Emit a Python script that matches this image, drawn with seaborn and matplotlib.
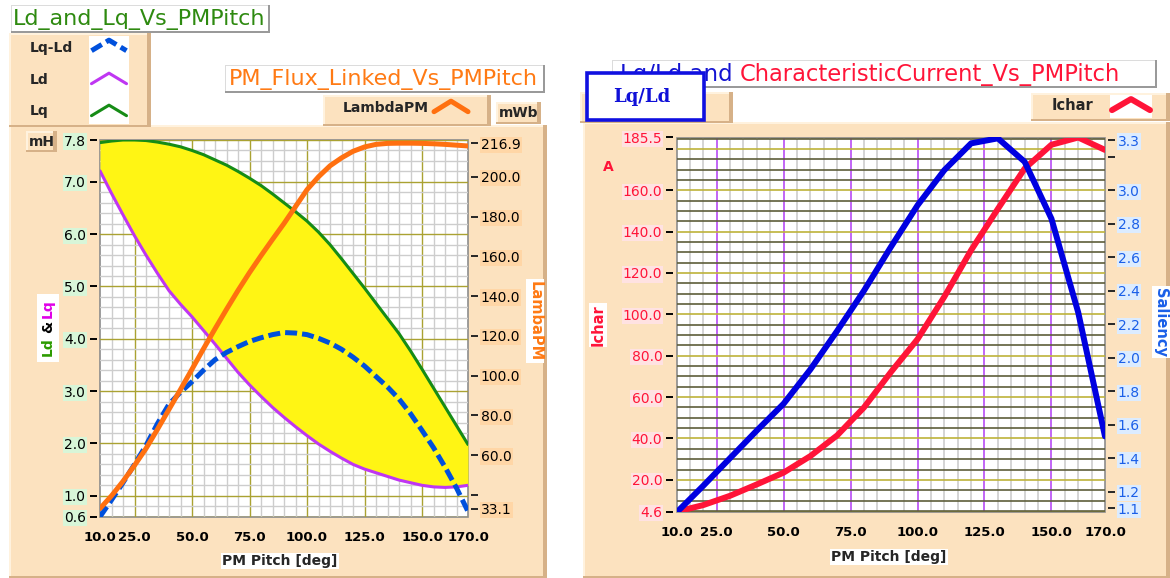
import matplotlib
matplotlib.use("Agg")
import matplotlib.pyplot as plt
import seaborn as sns
from matplotlib.patches import Rectangle
from matplotlib.lines import Line2D
from matplotlib.legend_handler import HandlerBase

# ---------------- data ----------------
# left chart (5 deg steps)
pitch_left_deg = [10, 15, 20, 25, 30, 35, 40, 45, 50, 55, 60, 65, 70, 75, 80, 85, 90,
                  95, 100, 105, 110, 115, 120, 125, 130, 135, 140, 145, 150, 155, 160, 165, 170]
lq_mh = [7.75, 7.78, 7.8, 7.8, 7.79, 7.76, 7.72, 7.67, 7.6, 7.52, 7.42, 7.32, 7.2, 7.07, 6.93, 6.77, 6.6,
         6.43, 6.25, 6.04, 5.8, 5.53, 5.25, 4.97, 4.68, 4.39, 4.1, 3.77, 3.42, 3.06, 2.7, 2.34, 1.98]
ld_mh = [7.21, 6.78, 6.37, 5.97, 5.6, 5.25, 4.92, 4.66, 4.42, 4.16, 3.9, 3.63, 3.36, 3.12, 2.9, 2.69, 2.5,
         2.32, 2.15, 1.99, 1.85, 1.72, 1.6, 1.51, 1.44, 1.37, 1.3, 1.25, 1.2, 1.17, 1.16, 1.17, 1.2]
lq_minus_ld_mh = [0.6, 0.92, 1.25, 1.6, 1.96, 2.38, 2.75, 2.98, 3.18, 3.4, 3.6, 3.74, 3.85, 3.95, 4.02, 4.08, 4.12,
                  4.11, 4.08, 4.01, 3.92, 3.8, 3.65, 3.48, 3.28, 3.08, 2.85, 2.57, 2.25, 1.92, 1.55, 1.15, 0.7]
lambda_pm_mwb = [33.1, 39.5, 46.8, 54.8, 63.3, 73.0, 83.0, 93.0, 103.2, 113.5, 123.5, 133.3, 142.8, 151.8, 160.3, 168.5, 176.5,
                 185.0, 193.5, 200.0, 205.5, 209.5, 212.8, 215.0, 216.3, 216.8, 216.9, 216.9, 216.8, 216.6, 216.3, 215.9, 215.5]
# right chart (10 deg steps)
pitch_right_deg = [10, 20, 30, 40, 50, 60, 70, 80, 90, 100, 110, 120, 130, 140, 150, 160, 170]
ichar_a = [4.6, 7.8, 12.3, 17.8, 23.5, 31.5, 41.5, 55.0, 72.0, 88.0, 108.5, 131.0, 151.0, 170.5, 182.0, 185.5, 179.5]
saliency = [1.075, 1.235, 1.4, 1.565, 1.725, 1.93, 2.16, 2.4, 2.66, 2.91, 3.12, 3.28, 3.31, 3.17, 2.83, 2.27, 1.53]

x_ticks = [10, 25, 50, 75, 100, 125, 150, 170]
x_tick_labels = ["10.0", "25.0", "50.0", "75.0", "100.0", "125.0", "150.0", "170.0"]
l_ticks = [0.6, 1, 2, 3, 4, 5, 6, 7, 7.8]
l_tick_labels = ["0.6", "1.0", "2.0", "3.0", "4.0", "5.0", "6.0", "7.0", "7.8"]
lam_ticks = [33.1, 40, 60, 80, 100, 120, 140, 160, 180, 200, 216.9]
lam_tick_labels = ["33.1", "", "60.0", "80.0", "100.0", "120.0", "140.0", "160.0", "180.0", "200.0", "216.9"]
i_ticks = [4.6, 20, 40, 60, 80, 100, 120, 140, 160, 180, 185.5]
i_tick_labels = ["4.6", "20.0", "40.0", "60.0", "80.0", "100.0", "120.0", "140.0", "160.0", "", "185.5"]
s_ticks = [1.1, 1.2, 1.4, 1.6, 1.8, 2.0, 2.2, 2.4, 2.6, 2.8, 3.0, 3.2, 3.3]
s_tick_labels = ["1.1", "1.2", "1.4", "1.6", "1.8", "2.0", "2.2", "2.4", "2.6", "2.8", "3.0", "", "3.3"]

# ---------------- style ----------------
sns.set_style("white")
plt.rcParams["font.family"] = ["DejaVu Sans"]

W, H = 1170, 578
BEIGE = "#fce2bf"
GREEN = "#168c16"
PURPLE = "#bf36f2"
BLUE_D = "#0050dc"
ORANGE = "#ff7010"
YELLOW = "#fff514"
RED = "#ff1438"
BLUE = "#0000e0"

fig = plt.figure(figsize=(W / 100, H / 100), dpi=100)
fig.patch.set_facecolor("white")


def fx(p):
    return p / W


def fy(p):
    return 1 - p / H


def box(x0, y0, x1, y1):
    return [x0 / W, 1 - y1 / H, (x1 - x0) / W, (y1 - y0) / H]


def rect(x0, y0, x1, y1, fc, z=-5, ec="none", lw=0):
    r = Rectangle((x0 / W, 1 - y1 / H), (x1 - x0) / W, (y1 - y0) / H,
                  transform=fig.transFigure, facecolor=fc, edgecolor=ec,
                  linewidth=lw, zorder=z)
    fig.add_artist(r)
    return r


def bevel_panel(x0, y0, x1, y1, fc=BEIGE, z=-5):
    rect(x0, y0, x1, y1, fc, z=z)
    rect(x0, y0, x1, y0 + 2, "#fff2de", z=z + 0.1)
    rect(x0, y0, x0 + 2, y1, "#fff2de", z=z + 0.1)
    rect(x1 - 4, y0, x1, y1, "#d6b188", z=z + 0.1)
    rect(x0, y1 - 2, x1, y1, "#d6b188", z=z + 0.1)


def title_box(x0, y0, x1, y1, z=-4):
    rect(x0, y0, x1, y1, "white", z=z)
    rect(x0, y0, x1, y0 + 1, "#dcdcdc", z=z + 0.1)
    rect(x0, y0, x0 + 1, y1, "#dcdcdc", z=z + 0.1)
    rect(x1 - 2, y0, x1, y1, "#9a9a9a", z=z + 0.1)
    rect(x0, y1 - 2, x1, y1, "#9a9a9a", z=z + 0.1)


class Chevron(HandlerBase):
    def create_artists(self, legend, orig_handle, xdescent, ydescent,
                       width, height, fontsize, trans):
        x0, y0 = -xdescent, -ydescent
        line = Line2D([x0, x0 + width / 2, x0 + width],
                      [y0 + 0.1 * height, y0 + 0.9 * height, y0 + 0.1 * height])
        self.update_prop(line, orig_handle, legend)
        line.set_transform(trans)
        return [line]


def chevron_legend(handle, cx, cy, wpx, hpx):
    fs = 10
    pxfs = fs * 100 / 72
    lg = fig.legend(handles=[handle], labels=[""], loc="center",
                    bbox_to_anchor=(fx(cx), fy(cy)), bbox_transform=fig.transFigure,
                    frameon=False, handler_map={Line2D: Chevron()},
                    handlelength=wpx / pxfs, handleheight=hpx / pxfs,
                    handletextpad=0, borderpad=0, borderaxespad=0, fontsize=fs)
    lg.set_zorder(6)
    return lg


# ---------------- decorative panels ----------------
bevel_panel(9, 125, 547, 578)              # left chart panel
bevel_panel(9, 33, 151, 127, z=-4.5)       # left legend panel
rect(89, 36, 129, 124, "white", z=-4)      # legend swatch column
title_box(11, 5, 270, 33)
title_box(225, 65, 545, 93)
bevel_panel(323, 95, 491, 126, z=-4.5)     # LambdaPM legend
bevel_panel(496, 102, 541, 124, z=-4.5)    # mWb
bevel_panel(26, 131, 57, 152, z=-4.4)      # mH
rect(37, 294, 59, 362, "white", z=-4)      # behind 'Ld & Lq'

bevel_panel(583, 122, 1170, 578)           # right chart panel
title_box(612, 60, 1157, 88)
bevel_panel(580, 92, 733, 123, z=-4.5)
bevel_panel(1031, 93, 1170, 121, z=-4.5)   # Ichar legend
rect(1110, 95, 1152, 118, "white", z=-4)

# ---------------- left chart ----------------
axL = fig.add_axes(box(100, 140, 468, 516.7))
axL2 = axL.twinx()
axL.set_axisbelow(True)
axL.fill_between(pitch_left_deg, ld_mh, lq_mh, color=YELLOW, linewidth=0, zorder=1)
sns.lineplot(x=pitch_left_deg, y=lq_mh, ax=axL, color=GREEN, linewidth=2.2)
h_lq = axL.lines[-1]
sns.lineplot(x=pitch_left_deg, y=ld_mh, ax=axL, color=PURPLE, linewidth=2.2)
h_ld = axL.lines[-1]
sns.lineplot(x=pitch_left_deg, y=lq_minus_ld_mh, ax=axL, color=BLUE_D, linewidth=3.6)
h_lqld = axL.lines[-1]
h_lqld.set_dashes([2.4, 1.0])
h_lqld.set_dash_capstyle("butt")
sns.lineplot(x=pitch_left_deg, y=lambda_pm_mwb, ax=axL2, color=ORANGE, linewidth=3.6)
h_lam = axL2.lines[-1]

# ---------------- right chart ----------------
axR = fig.add_axes(box(676.5, 137.5, 1105, 511.7))
axR2 = axR.twinx()
axR.set_axisbelow(True)
sns.lineplot(x=pitch_right_deg, y=ichar_a, ax=axR, color=RED, linewidth=4.3)
h_ich = axR.lines[-1]
sns.lineplot(x=pitch_right_deg, y=saliency, ax=axR2, color=BLUE, linewidth=4.3)


def tick_bg(labels, fc, color="black"):
    for t in labels:
        t.set_bbox(dict(boxstyle="square,pad=0.08", fc=fc, ec="none"))
        t.set_color(color)


def common_axes(ax, ax2, minor_col, xgrid_major, ygrid_major,
                xminor, yminor, glw, xlo, xhi, ylo, yhi):
    for a in (ax, ax2):
        for s in a.spines.values():
            s.set_visible(False)
    ax.spines["left"].set_position(("outward", 2.2))
    ax.spines["bottom"].set_position(("outward", 2.2))
    ax2.spines["right"].set_position(("outward", 2.2))
    ax.patch.set_edgecolor("#8c8c8c")
    ax.patch.set_linewidth(1.2)
    ax.set_xticks(x_ticks)
    ax.set_xticklabels(x_tick_labels, fontsize=9.5, fontweight="bold")
    ax.set_xticks(xminor, minor=True)
    ax.set_yticks(yminor, minor=True)
    ax.tick_params(which="minor", length=0)
    ax.tick_params(which="major", direction="out", length=5, width=1.4, pad=3, colors="black")
    ax2.tick_params(axis="y", which="major", direction="out", length=5, width=1.4, pad=2)
    ax.xaxis.grid(True, which="major", color=xgrid_major, lw=glw)
    ax.yaxis.grid(True, which="major", color=ygrid_major, lw=glw)
    ax.xaxis.grid(True, which="minor", color="#cdcdcd", lw=glw)
    ax.yaxis.grid(True, which="minor", color=minor_col, lw=glw)
    ax2.grid(False)
    for t in ax.xaxis.get_major_ticks():
        if t.get_loc() in (xlo, xhi):
            t.gridline.set_visible(False)
    for t in ax.yaxis.get_major_ticks():
        if t.get_loc() in (ylo, yhi):
            t.gridline.set_visible(False)
    ax.set_xlabel("")
    ax.set_ylabel("")
    ax2.set_ylabel("")


xminor = [v for v in range(15, 170, 5) if v % 25 != 0]

axL.set_xlim(10, 170)
axL.set_ylim(0.6, 7.8)
axL.set_yticks(l_ticks)
axL.set_yticklabels(l_tick_labels, fontsize=9.5, fontweight="bold")
axL2.set_ylim(29.0, 218.5)
axL2.set_yticks(lam_ticks)
axL2.set_yticklabels(lam_tick_labels, fontsize=9.5, fontweight="bold")
yminor_L = [round(0.6 + 0.2 * k, 1) for k in range(1, 36)]
yminor_L = [v for v in yminor_L if abs(v - round(v)) > 1e-6]
common_axes(axL, axL2, "#cdcdcd", "#aaa232", "#aaa232",
            xminor, yminor_L, 1.0, 10, 170, 0.6, 7.8)
tick_bg(axL.get_yticklabels(), "#d8f6d8")
tick_bg(axL2.get_yticklabels(), "#ffd6a6")

axR.set_xlim(10, 170)
axR.set_ylim(4.6, 185.5)
axR.set_yticks(i_ticks)
axR.set_yticklabels(i_tick_labels, fontsize=9.5, fontweight="bold")
axR2.set_ylim(1.08, 3.315)
axR2.set_yticks(s_ticks)
axR2.set_yticklabels(s_tick_labels, fontsize=9.5, fontweight="bold")
yminor_R = [v for v in range(5, 186, 5) if v % 20 != 0]
common_axes(axR, axR2, "#5e5e3a", "#b84cf5", "#bdb33a",
            xminor, yminor_R, 1.2, 10, 170, 4.6, 185.5)
tick_bg(axR.get_yticklabels(), "#ffe2e2", RED)
tick_bg(axR2.get_yticklabels(), "#dcecff", "#1a5fe8")

# ---------------- texts ----------------
fig.text(fx(13), fy(19), "Ld_and_Lq_Vs_PMPitch", color="#2e8a10", fontsize=16, va="center", ha="left")
fig.text(fx(229), fy(79), "PM_Flux_Linked_Vs_PMPitch", color="#ff7a14", fontsize=16, va="center", ha="left")
t1 = fig.text(fx(620), fy(74), "Lq/Ld and ", color="#1414d2", fontsize=16.5, va="center", ha="left", zorder=3)
fig.canvas.draw()
bb = t1.get_window_extent()
fig.text(bb.x1 / W, fy(74), "CharacteristicCurrent_Vs_PMPitch", color=RED, fontsize=16.3, va="center", ha="left", zorder=3)

rect(587, 73, 704, 120, "white", z=4, ec="#1010e0", lw=2.6)
fig.text(fx(642), fy(97), "Lq/Ld", color="#1010d8", fontsize=13, fontweight="bold",
         family="DejaVu Serif", va="center", ha="center", zorder=5)

for lbl, yy in (("Lq-Ld", 48), ("Ld", 80), ("Lq", 111)):
    fig.text(fx(30), fy(yy), lbl, fontsize=10, fontweight="bold", va="center", ha="left")
fig.text(fx(343), fy(108), "LambdaPM", fontsize=10, fontweight="bold", va="center", ha="left")
fig.text(fx(518.5), fy(113), "mWb", fontsize=10, fontweight="bold", va="center", ha="center")
fig.text(fx(41.5), fy(141.5), "mH", fontsize=10, fontweight="bold", va="center", ha="center")
fig.text(fx(1052), fy(106), "Ichar", fontsize=10.5, fontweight="bold", va="center", ha="left")

chevron_legend(h_lqld, 109, 46, 35, 15)
chevron_legend(h_ld, 109, 79, 35, 15)
chevron_legend(h_lq, 109, 111, 35, 15)
chevron_legend(h_lam, 451, 107, 34, 15)
chevron_legend(h_ich, 1131, 105, 38, 16)

# axis titles
fig.text(fx(48), fy(347), "Ld", color="#2c9b00", fontsize=10, fontweight="bold", rotation=90, va="center", ha="center")
fig.text(fx(48), fy(327), "&", color="black", fontsize=10, fontweight="bold", rotation=90, va="center", ha="center")
fig.text(fx(48), fy(309), "Lq", color="#e000e8", fontsize=10, fontweight="bold", rotation=90, va="center", ha="center")
fig.text(fx(535), fy(321), "LambaPM", color="#ff7a14", fontsize=10.5, fontweight="bold", rotation=270,
         va="center", ha="center", bbox=dict(boxstyle="square,pad=0.1", fc="white", ec="none"))
fig.text(fx(598), fy(325), "Ichar", color=RED, fontsize=10.5, fontweight="bold", rotation=90,
         va="center", ha="center", bbox=dict(boxstyle="square,pad=0.1", fc="white", ec="none"))
fig.text(fx(1161), fy(322), "Saliency", color="#1a5fe8", fontsize=10.5, fontweight="bold", rotation=270,
         va="center", ha="center", bbox=dict(boxstyle="square,pad=0.1", fc="white", ec="none"))
fig.text(fx(608), fy(167), "A", color=RED, fontsize=10, fontweight="bold", va="center", ha="center")
fig.text(fx(280), fy(561), "PM Pitch [deg]", fontsize=10, fontweight="bold", va="center", ha="center",
         bbox=dict(boxstyle="square,pad=0.1", fc="white", ec="none"))
fig.text(fx(889), fy(557), "PM Pitch [deg]", fontsize=10, fontweight="bold", va="center", ha="center",
         bbox=dict(boxstyle="square,pad=0.1", fc="white", ec="none"))

fig.savefig("out.png", dpi=100, facecolor="white")
